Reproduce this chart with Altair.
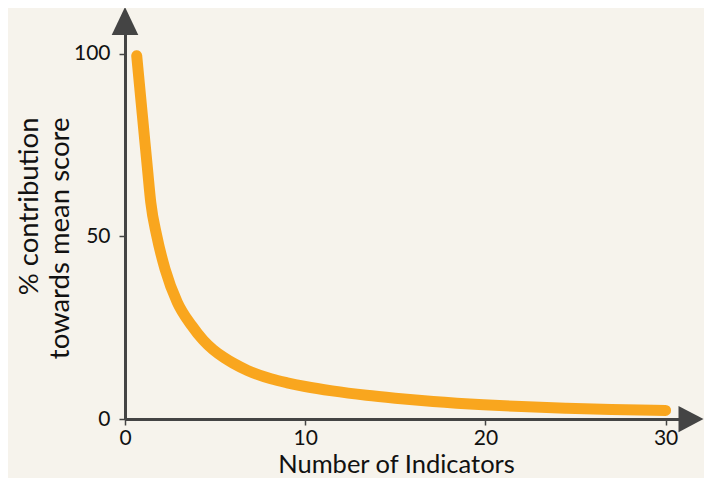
import altair as alt
import pandas as pd

# ---- data ----
indicators = [0.65, 0.9, 1.11, 1.25, 1.43, 1.76, 2.22, 2.9, 3.7, 4.34, 4.89, 5.5, 6.0,
              6.8, 8.1, 9.0, 10, 11.5, 13.4, 15, 17.1, 19.9, 22, 24.5, 27, 30]
contribution = [99.5, 86.5, 75.6, 68.4, 59.3, 50.2, 41.1, 32.0, 25.6, 21.6, 19.0, 16.8,
                15.3, 13.3, 11.0, 9.9, 8.9, 7.7, 6.5, 5.7, 4.8, 3.9, 3.4, 2.95, 2.6, 2.35]
x_ticks = [0, 10, 20, 30]
y_ticks = [0, 50, 100]
x_title = "Number of Indicators"
y_title = ["% contribution", "towards mean score"]

# axis extents (where the arrowheads sit)
X_END = 31.41
Y_END = 109

BG = "#F6F3EC"
ORANGE = "#F9A61E"
AXIS = "#444444"
TEXT = "#111111"
FONT = "Lato"

df = pd.DataFrame({"n": indicators, "pct": contribution})

x_enc = alt.X(
    "n:Q",
    scale=alt.Scale(domain=[0, X_END], nice=False, zero=False),
    axis=alt.Axis(
        values=x_ticks, title=x_title, grid=False, labelFlush=False,
        domainColor=AXIS, domainWidth=3, tickColor=AXIS, tickWidth=1.5, tickSize=6,
        labelFont=FONT, labelFontSize=21, labelColor=TEXT,
        labelBaseline="alphabetic", labelPadding=19,
        titleFont=FONT, titleFontSize=25.5, titleFontWeight="normal", titleColor=TEXT,
        titleX=271, titleY=53.5, titleAlign="center", titleBaseline="alphabetic",
    ),
)
y_enc = alt.Y(
    "pct:Q",
    scale=alt.Scale(domain=[0, Y_END], nice=False),
    axis=alt.Axis(
        values=y_ticks, title=y_title, grid=False,
        domainColor=AXIS, domainWidth=3, tickColor=AXIS, tickWidth=1.5, tickSize=6,
        labelFont=FONT, labelFontSize=21, labelColor=TEXT, labelPadding=9,
        titleFont=FONT, titleFontSize=27.5, titleFontWeight="normal", titleColor=TEXT,
        titleAngle=270, titleAlign="right", titleBaseline="alphabetic",
        titleX=-88, titleY=96, titleLineHeight=31,
    ),
)

line = alt.Chart(df).mark_line(
    color=ORANGE, strokeWidth=11, strokeCap="round", strokeJoin="round",
    interpolate="monotone",
).encode(x=x_enc, y=y_enc)

up_arrow = alt.Chart(pd.DataFrame({"n": [0], "pct": [Y_END]})).mark_point(
    shape="M0,-1L0.95,1L-0.95,1Z", filled=True, size=784, color=AXIS, opacity=1,
    strokeWidth=0,
).encode(x="n:Q", y="pct:Q")

right_arrow = alt.Chart(pd.DataFrame({"n": [X_END], "pct": [0]})).mark_point(
    shape="M1,0L-1,1.05L-1,-1.05Z", filled=True, size=625, color=AXIS, opacity=1,
    strokeWidth=0,
).encode(x="n:Q", y="pct:Q")

chart = alt.layer(line, up_arrow, right_arrow).properties(
    width=566, height=398,
    autosize=alt.AutoSizeParams(type="none"),
    padding={"left": 117, "top": 13, "right": 13, "bottom": 59},
    background=BG,
).configure_view(stroke=None)

chart.save("out.html", embed_options={"renderer": "svg", "actions": False})
